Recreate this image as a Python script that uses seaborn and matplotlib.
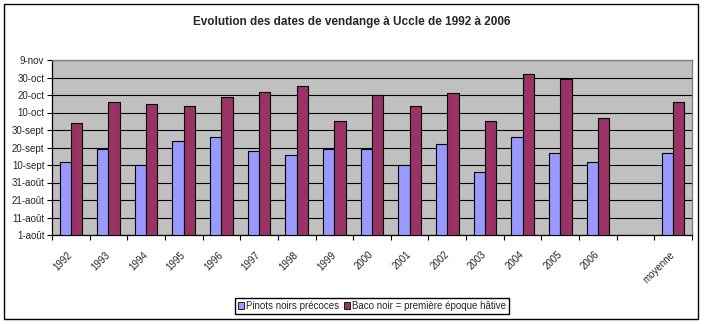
import matplotlib
matplotlib.use("Agg")
import matplotlib.pyplot as plt
from matplotlib.patches import Rectangle
from matplotlib.ticker import FixedLocator
import seaborn as sns
import pandas as pd

# Harvest dates (month-day) for each vintage, plus the average
years = ["1992", "1993", "1994", "1995", "1996", "1997", "1998", "1999",
         "2000", "2001", "2002", "2003", "2004", "2005", "2006"]
avg_label = "moyenne"
pinots_noirs = ["09-12", "09-19", "09-10", "09-24", "09-26", "09-18", "09-16", "09-19",
                "09-19", "09-10", "09-22", "09-06", "09-26", "09-17", "09-12", "09-17"]
baco_noir = ["10-04", "10-16", "10-15", "10-14", "10-19", "10-22", "10-25", "10-05",
             "10-20", "10-14", "10-21", "10-05", "11-01", "10-29", "10-07", "10-16"]
series_names = ["Pinots noirs précoces", "Baco noir = première époque hâtive"]
ytick_labels = ["1-août", "11-août", "21-août", "31-août", "10-sept", "20-sept",
                "30-sept", "10-oct", "20-oct", "30-oct", "9-nov"]
title = "Evolution des dates de vendange à Uccle de 1992 à 2006"

categories = years + [avg_label]
order = years + [" ", avg_label]   # empty slot before the average


def days_after_aug1(md):
    return (pd.Timestamp("2001-" + md) - pd.Timestamp("2001-08-01")).days


df = pd.DataFrame({
    "cat": categories * 2,
    "serie": [series_names[0]] * len(categories) + [series_names[1]] * len(categories),
    "jours": [days_after_aug1(v) for v in pinots_noirs + baco_noir],
})

sns.set_style("white")
plt.rcParams["font.family"] = ["Liberation Sans", "DejaVu Sans"]

W, H = 704, 324
fig = plt.figure(figsize=(W / 100, H / 100), dpi=100)
ax = fig.add_axes([52 / W, (H - 235) / H, 640 / W, 175 / H])
ax.set_facecolor("#C0C0C0")

sns.barplot(data=df, x="cat", y="jours", hue="serie", order=order,
            hue_order=series_names, palette=["#9999FF", "#993366"],
            width=0.6, gap=0, edgecolor="black", linewidth=0.8,
            saturation=1, errorbar=None, ax=ax, zorder=3)

# axes, grid and ticks
ax.set_ylim(0, 100)
ax.set_xlim(-0.5, len(order) - 0.5)
ax.set_yticks(range(0, 101, 10))
ax.set_yticklabels(ytick_labels, fontsize=7)
ax.yaxis.grid(True, color="black", linewidth=0.8, zorder=1)
ax.set_axisbelow(True)
ax.set_xticks(range(len(order)))
ax.set_xticklabels(order, fontsize=7, rotation=45, ha="right", va="center",
                   rotation_mode="anchor")
ax.xaxis.set_minor_locator(FixedLocator([i - 0.5 for i in range(len(order) + 1)]))
ax.tick_params(axis="x", which="major", length=0, pad=13)
ax.tick_params(axis="x", which="minor", length=3.5, width=0.8, color="black",
               direction="out", bottom=True)
ax.tick_params(axis="y", length=3.5, width=0.8, color="black", direction="out",
               left=True, pad=2)
ax.set_xlabel("")
ax.set_ylabel("")
for side in ("top", "right"):
    ax.spines[side].set_color("#808080")
    ax.spines[side].set_linewidth(1.0)
for side in ("left", "bottom"):
    ax.spines[side].set_color("black")
    ax.spines[side].set_linewidth(0.9)

ax.get_legend().remove()
handles = [Rectangle((0, 0), 1, 1, facecolor=c, edgecolor="black", linewidth=0.6)
           for c in ["#9999FF", "#993366"]]
fig.legend(handles, series_names, loc="center", bbox_to_anchor=(372 / W, (H - 306) / H),
           ncol=2, fontsize=7, frameon=True, fancybox=False, edgecolor="black",
           framealpha=1, handlelength=0.6, handleheight=0.6, handletextpad=0.25,
           columnspacing=0.5, borderpad=0.3, borderaxespad=0)

fig.text(352 / W, (H - 22) / H, title, ha="center", va="center",
         fontsize=8.5, fontweight="bold")

# outer chart border
fig.patches.append(Rectangle((4 / W, (H - 319) / H), 694 / W, 315 / H,
                             transform=fig.transFigure, fill=False,
                             edgecolor="black", linewidth=1.0))

fig.savefig("out.png", dpi=100, facecolor="white")
